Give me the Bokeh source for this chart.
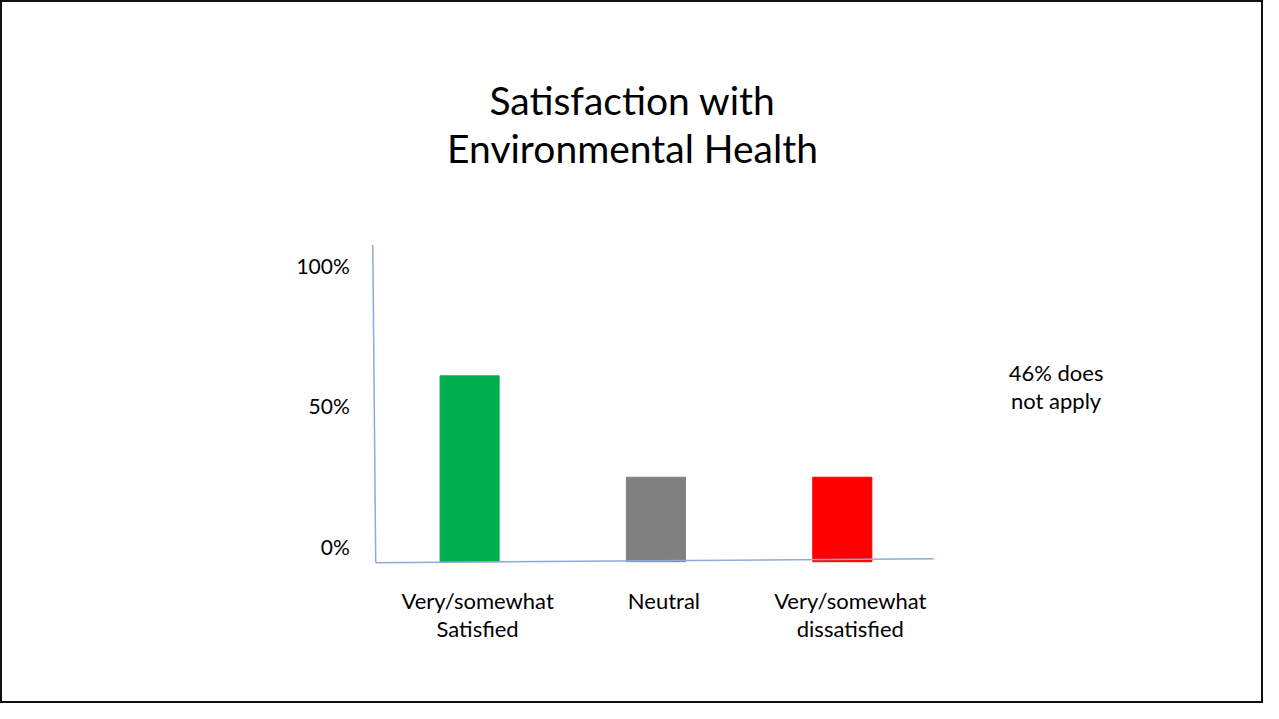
from bokeh.plotting import figure
from bokeh.models import Range1d, ColumnDataSource
from bokeh.core.properties import value
from bokeh.embed import file_html
from bokeh.resources import INLINE

# ---- data ----
categories = ["Very/somewhat\nSatisfied", "Neutral", "Very/somewhat\ndissatisfied"]
values = [66, 30, 30]
colors = ["#00B050", "#808080", "#FF0000"]
tick_values = [0, 50, 100]
tick_labels = ["0%", "50%", "100%"]
title_lines = "Satisfaction with\nEnvironmental Health"
note = "46% does\nnot apply"

FONT = "Lato"
W, H = 1263, 703
UNIT_X = 186.35   # px per category
X0_PX = 469.1     # px of first category
UNIT_Y = 2.816    # px per percent
Y0_PX = 561.2     # px (from top) of 0%


def dx(px):
    return (px - X0_PX) / UNIT_X


def dy(py):
    return (Y0_PX - py) / UNIT_Y


x_range = Range1d(dx(0), dx(W))
y_range = Range1d(dy(H), dy(0))

p = figure(width=W, height=H, x_range=x_range, y_range=y_range,
           output_backend="svg", toolbar_location=None,
           x_axis_location=None, y_axis_location=None, min_border=0)
p.grid.visible = False
p.outline_line_color = "#111111"
p.outline_line_width = 3
p.background_fill_color = "white"
p.border_fill_color = "white"

xs = list(range(len(categories)))
src = ColumnDataSource(dict(x=xs, top=values, color=colors, label=categories))
p.vbar(x="x", top="top", bottom=0, width=0.317, color="color", source=src)

# hand-drawn style axes
p.segment(x0=[dx(375.2), dx(375.2)], y0=[dy(562.2), dy(562.2)],
          x1=[dx(372.3), dx(933.2)], y1=[dy(244.4), dy(558.3)],
          line_color="#8FAADC", line_width=1.5)

# y tick labels
p.text(x=[dx(373.3)] * len(tick_values), y=tick_values, text=tick_labels,
       x_offset=-24, y_offset=-15, text_align="right", text_baseline="middle",
       text_font=value(FONT), text_font_size="21px", text_color="#000000")

# category labels
p.text(x="x", y=0, text="label", source=src, x_offset=8, y_offset=25,
       text_align="center", text_baseline="top", text_line_height=1.04,
       text_font=value(FONT), text_font_size="22px", text_color="#000000")

# title
p.text(x=[dx(632)], y=[dy(76)], text=[title_lines],
       text_align="center", text_baseline="top", text_line_height=1.06,
       text_font=value(FONT), text_font_size="39px", text_color="#000000")

# note
p.text(x=[dx(1055.6)], y=[dy(358)], text=[note],
       text_align="center", text_baseline="top", text_line_height=1.04,
       text_font=value(FONT), text_font_size="22px", text_color="#000000")

open("out.html", "w").write(file_html(p, INLINE))
